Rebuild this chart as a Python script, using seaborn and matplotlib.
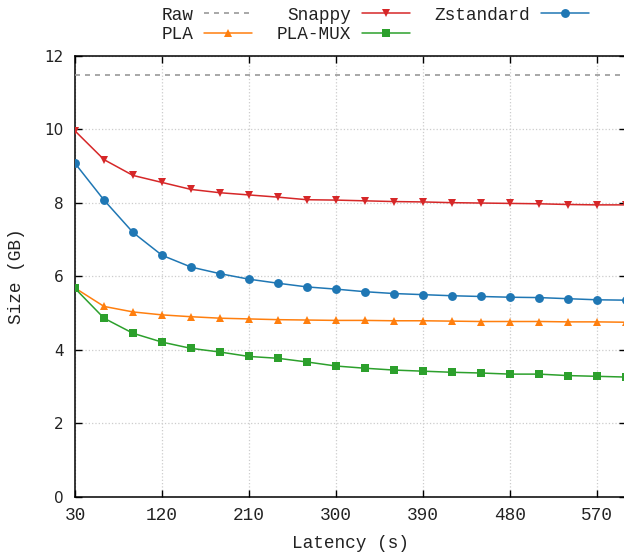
import matplotlib
matplotlib.use("Agg")
import matplotlib.pyplot as plt
import seaborn as sns
import pandas as pd

# latency in seconds
latency = [30, 60, 90, 120, 150, 180, 210, 240, 270, 300,
           330, 360, 390, 420, 450, 480, 510, 540, 570, 600]

# sizes in GB
raw = [11.48, 11.48, 11.48, 11.48, 11.48, 11.48, 11.48, 11.48, 11.48, 11.48,
       11.48, 11.48, 11.48, 11.48, 11.48, 11.48, 11.48, 11.48, 11.48, 11.48]
snappy = [9.95, 9.17, 8.74, 8.55, 8.36, 8.27, 8.21, 8.15, 8.08, 8.07,
          8.05, 8.03, 8.02, 8.00, 7.99, 7.98, 7.97, 7.95, 7.94, 7.94]
zstandard = [9.07, 8.07, 7.19, 6.57, 6.25, 6.07, 5.92, 5.81, 5.71, 5.65,
             5.58, 5.53, 5.50, 5.47, 5.45, 5.43, 5.42, 5.39, 5.36, 5.35]
pla = [5.68, 5.18, 5.03, 4.95, 4.90, 4.86, 4.84, 4.82, 4.81, 4.80,
       4.80, 4.79, 4.79, 4.78, 4.77, 4.77, 4.77, 4.76, 4.76, 4.75]
pla_mux = [5.67, 4.86, 4.45, 4.21, 4.04, 3.94, 3.82, 3.77, 3.67, 3.56,
           3.50, 3.45, 3.42, 3.39, 3.37, 3.34, 3.34, 3.30, 3.28, 3.26]

x_ticks = [30, 120, 210, 300, 390, 480, 570]
y_ticks = [0, 2, 4, 6, 8, 10, 12]

sns.set_style("ticks")
plt.rcParams['font.family'] = ['Liberation Mono', 'DejaVu Sans']
plt.rcParams['font.size'] = 12.8

mono = 'Liberation Mono'

fig = plt.figure(figsize=(6.24, 5.54), dpi=100)
ax = fig.add_axes([75 / 624, 57 / 554, 551 / 624, 441.5 / 554])

series = [
    ("Raw", raw, "#999999", None, (0, (3, 3))),
    ("Snappy", snappy, "#d62728", "v", "-"),
    ("Zstandard", zstandard, "#1f77b4", "o", "-"),
    ("PLA", pla, "#ff7f0e", "^", "-"),
    ("PLA-MUX", pla_mux, "#2ca02c", "s", "-"),
]

for name, values, color, marker, ls in series:
    df = pd.DataFrame({"Latency": latency, "Size": values})
    sns.lineplot(data=df, x="Latency", y="Size", ax=ax, color=color,
                 marker=marker, markersize=6.4, markeredgewidth=0,
                 linestyle=ls, linewidth=1.2 if name == "Raw" else 1.1,
                 label=name, legend=False, zorder=3)

ax.set_xlim(30, 600)
ax.set_ylim(0, 12)
ax.set_xticks(x_ticks)
ax.set_yticks(y_ticks)
ax.set_xticklabels([str(t) for t in x_ticks], family=mono, fontsize=12.8,
                   color='#222222')
ax.set_yticklabels([str(t) for t in y_ticks], family='DejaVu Sans', fontsize=11,
                   color='#222222')

ax.tick_params(direction='in', length=5, width=1, top=True, right=True,
               color='black')
ax.tick_params(axis='x', pad=7)
ax.tick_params(axis='y', pad=8)
for sp in ax.spines.values():
    sp.set_visible(True)
    sp.set_color('black')
    sp.set_linewidth(1.1)

ax.grid(True, linestyle=':', color='#cccccc', linewidth=0.9, zorder=0)
ax.set_axisbelow(True)

ax.set_xlabel("Latency (s)", family=mono, fontsize=12.8, labelpad=8,
              color='#222222')
ax.set_ylabel("Size (GB)", family=mono, fontsize=12.8, labelpad=14,
              color='#222222')

# legend, gnuplot style: text first, then sample
handles, labels = ax.get_legend_handles_labels()
lookup = dict(zip(labels, handles))
order = ["Raw", "PLA", "Snappy", "PLA-MUX", "Zstandard"]
fig.legend([lookup[k] for k in order], order, loc='center',
           bbox_to_anchor=(375 / 624, 1 - 25 / 554), ncol=3, frameon=False,
           markerfirst=False, handlelength=2.7, handletextpad=0.6,
           columnspacing=1.4, labelspacing=0.15,
           prop={'family': mono, 'size': 12.8}, labelcolor='#222222')

fig.savefig("out.png", dpi=100)
